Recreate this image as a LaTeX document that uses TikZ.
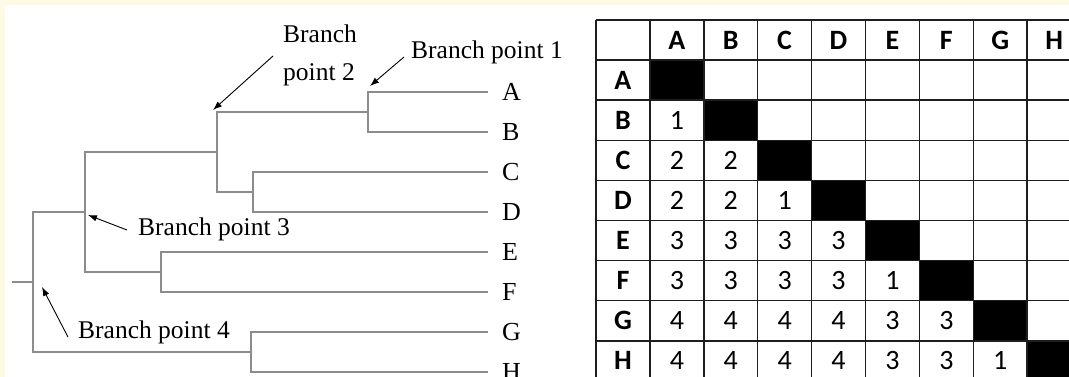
\documentclass[tikz,border=0pt]{standalone}
\usepackage{fontspec}
\setmainfont{Liberation Serif}
\newfontfamily\calib{Carlito}
\usetikzlibrary{arrows.meta}
\definecolor{cream}{RGB}{255,250,230}
\definecolor{treegray}{RGB}{140,140,140}
\definecolor{gridc}{RGB}{30,30,30}
\begin{document}
\begin{tikzpicture}[x=1pt,y=-1pt,
  tree/.style={draw=treegray, line width=1.5pt},
  leaf/.style={anchor=west, inner sep=0pt, font=\fontsize{26}{30}\selectfont},
  bplabel/.style={inner sep=0pt, font=\fontsize{25.5}{38}\selectfont, align=left},
  pointer/.style={draw=black, line width=0.9pt, -{Latex[length=9pt,width=6.5pt]}},
  gridline/.style={draw=gridc, line width=1.5pt},
  headtxt/.style={inner sep=0pt, font=\calib\bfseries\fontsize{28}{30}\selectfont},
  numtxt/.style={inner sep=0pt, font=\calib\fontsize{28}{30}\selectfont},
  darkcell/.style={fill=black}]

\useasboundingbox (0,0) rectangle (1069,377);
\fill[cream] (0,0) rectangle (1069,377);
\fill[white] (5,5) rectangle (1069,377);

% ---------- tree ----------
\node[leaf] (A) at (502,92) {A};
\node[leaf] (B) at (502,132) {B};
\node[leaf] (C) at (502,172) {C};
\node[leaf] (D) at (502,212) {D};
\node[leaf] (E) at (502,252) {E};
\node[leaf] (F) at (502,292) {F};
\node[leaf] (G) at (502,332) {G};
\node[leaf] (H) at (502,372) {H};

\coordinate (root) at (12,282);
\coordinate (p4a) at (33,212);
\coordinate (p4m) at (33,282);
\coordinate (p4b) at (33,352);
\coordinate (p3a) at (85,152);
\coordinate (p3m) at (85,212);
\coordinate (p3b) at (85,272);
\coordinate (p2a) at (217,112);
\coordinate (p2m) at (217,152);
\coordinate (p2b) at (217,192);
\coordinate (p1a) at (368,92);
\coordinate (p1m) at (368,112);
\coordinate (p1b) at (368,132);
\coordinate (cda) at (253,172);
\coordinate (cdm) at (253,192);
\coordinate (cdb) at (253,212);
\coordinate (efa) at (161,252);
\coordinate (efm) at (161,272);
\coordinate (efb) at (161,292);
\coordinate (gha) at (251,332);
\coordinate (ghm) at (251,352);
\coordinate (ghb) at (251,372);

\draw[tree] ([xshift=-14pt]A.west) -- (p1a) -- (p1b) -- ([xshift=-14pt]B.west);
\draw[tree] ([xshift=-14pt]C.west) -- (cda) -- (cdb) -- ([xshift=-14pt]D.west);
\draw[tree] ([xshift=-14pt]E.west) -- (efa) -- (efb) -- ([xshift=-14pt]F.west);
\draw[tree] ([xshift=-14pt]G.west) -- (gha) -- (ghb) -- ([xshift=-14pt]H.west);
\draw[tree] (p1m) -- (p2a) -- (p2b) -- (cdm);
\draw[tree] (p2m) -- (p3a) -- (p3b) -- (efm);
\draw[tree] (p3m) -- (p4a) -- (p4b) -- (ghm);
\draw[tree] (root) -- (p4m);

% ---------- branch point labels ----------
\node[bplabel, anchor=base west] (bp1) at (411,59) {Branch point 1};
\node[bplabel, anchor=north west] (bp2) at (283,25) {Branch\\point 2};
\node[bplabel, anchor=base west] (bp3) at (138,235) {Branch point 3};
\node[bplabel, anchor=base west] (bp4) at (78,338) {Branch point 4};

\coordinate (t1) at (370,86);
\coordinate (t2) at (213,110);
\coordinate (t3) at (88,215);
\coordinate (t4) at (42,287);
\coordinate (s1) at (404,57);
\coordinate (s2) at (273,56);
\coordinate (s3) at (127,230);
\coordinate (s4) at (68,337);

\draw[pointer] (s1) -- (t1);
\draw[pointer] (s2) -- (t2);
\draw[pointer] (s3) -- (t3);
\draw[pointer] (s4) -- (t4);

% ---------- distance table ----------
\begin{scope}
\clip (0,0) rectangle (1069,377);
\foreach \i in {1,...,8} {
  \fill[darkcell] ({596+\i*53.9},{20+\i*40.1}) rectangle ({596+(\i+1)*53.9},{20+(\i+1)*40.1});
}
\foreach \i in {0,...,9} {
  \draw[gridline] ({596+\i*53.9},20) -- ({596+\i*53.9},{20+9*40.1});
  \draw[gridline] (596,{20+\i*40.1}) -- ({596+9*53.9},{20+\i*40.1});
}
\foreach \L [count=\i] in {A,B,C,D,E,F,G,H} {
  \node[headtxt] (col\L) at ({596+(\i+0.5)*53.9},{20+0.5*40.1}) {\L};
  \node[headtxt] (row\L) at ({596+0.5*53.9},{20+(\i+0.5)*40.1}) {\L};
}
\foreach \r/\vals in {2/{1},3/{2,2},4/{2,2,1},5/{3,3,3,3},6/{3,3,3,3,1},7/{4,4,4,4,3,3},8/{4,4,4,4,3,3,1}} {
  \foreach \v [count=\c] in \vals {
    \node[numtxt] (v\r-\c) at ({596+(\c+0.5)*53.9},{20+(\r+0.5)*40.1}) {\v};
  }
}
\end{scope}
\end{tikzpicture}
\end{document}
